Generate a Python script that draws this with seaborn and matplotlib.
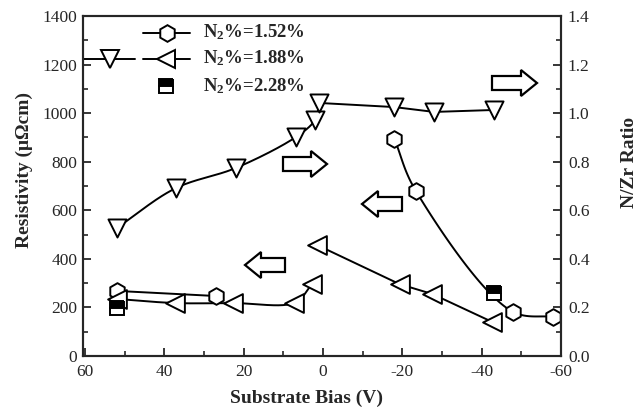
import numpy as np
import matplotlib
matplotlib.use("Agg")
import matplotlib.pyplot as plt
from matplotlib.patches import FancyArrow
from matplotlib.ticker import MultipleLocator, FormatStrFormatter
from matplotlib.transforms import IdentityTransform
import seaborn as sns

# ---------------- data ----------------
bias_152 = [52, 27, -18, -23.4, -48, -58]
res_152 = [268, 247, 894, 680, 181, 161]

bias_188_res = [52, 37.2, 22.6, 7.3, 2.8, 1.5, -19.3, -27.6, -42.7]
res_188 = [235, 218, 218, 218, 296, 457, 296, 255, 140]

bias_188_ratio = [52, 37, 22, 6.8, 2, 1, -18, -28, -43]
ratio_188 = [0.527, 0.692, 0.774, 0.902, 0.972, 1.042, 1.025, 1.005, 1.013]

bias_228 = [52, -43]
res_228 = [198, 259]

legend_labels = ["N$_2$%=1.52%", "N$_2$%=1.88%", "N$_2$%=2.28%"]
x_ticks = [60, 40, 20, 0, -20, -40, -60]

# ---------------- style ----------------
sns.set_style("ticks")
plt.rcParams["font.family"] = ["Liberation Serif", "DejaVu Serif"]
plt.rcParams["mathtext.fontset"] = "custom"
plt.rcParams["mathtext.rm"] = "Liberation Serif:bold"
plt.rcParams["mathtext.bf"] = "Liberation Serif:bold"
plt.rcParams["mathtext.default"] = "bf"


def smooth(xs, ys, sx, sy, n=40):
    P = np.column_stack([np.asarray(xs, float) / sx, np.asarray(ys, float) / sy])
    P = np.vstack([2 * P[0] - P[1], P, 2 * P[-1] - P[-2]])
    out = []
    for i in range(1, len(P) - 2):
        p0, p1, p2, p3 = P[i - 1:i + 3]
        t0 = 0.0
        t1 = t0 + np.linalg.norm(p1 - p0) ** 0.5 + 1e-9
        t2 = t1 + np.linalg.norm(p2 - p1) ** 0.5 + 1e-9
        t3 = t2 + np.linalg.norm(p3 - p2) ** 0.5 + 1e-9
        t = np.linspace(t1, t2, n)[:, None]
        A1 = (t1 - t) / (t1 - t0) * p0 + (t - t0) / (t1 - t0) * p1
        A2 = (t2 - t) / (t2 - t1) * p1 + (t - t1) / (t2 - t1) * p2
        A3 = (t3 - t) / (t3 - t2) * p2 + (t - t2) / (t3 - t2) * p3
        B1 = (t2 - t) / (t2 - t0) * A1 + (t - t0) / (t2 - t0) * A2
        B2 = (t3 - t) / (t3 - t1) * A2 + (t - t1) / (t3 - t1) * A3
        C = (t2 - t) / (t2 - t1) * B1 + (t - t1) / (t2 - t1) * B2
        out.append(C if i == 1 else C[1:])
    C = np.vstack(out)
    return C[:, 0] * sx, C[:, 1] * sy


W, H = 640, 409
fig = plt.figure(figsize=(W / 100, H / 100), dpi=100)
fig.subplots_adjust(left=83 / W, right=561 / W, bottom=1 - 356 / H, top=1 - 16 / H)
ax = fig.add_subplot(111)
ax2 = ax.twinx()

lw = 1.4
lk = dict(color="black", lw=lw, sort=False, legend=False)

# N2 1.52% lines
sns.lineplot(x=bias_152[:2], y=res_152[:2], ax=ax, **lk)
sx_, sy_ = smooth(bias_152[2:], res_152[2:], 120, 1400)
sns.lineplot(x=sx_, y=sy_, ax=ax, **lk)

# N2 1.88% resistivity lines
sx_, sy_ = smooth(bias_188_res[:5], res_188[:5], 120, 1400)
sns.lineplot(x=sx_, y=sy_, ax=ax, **lk)
sns.lineplot(x=bias_188_res[5:], y=res_188[5:], ax=ax, **lk)

# N2 1.88% ratio lines
sx_, sy_ = smooth(bias_188_ratio[:6], ratio_188[:6], 120, 1.4)
sns.lineplot(x=sx_, y=sy_, ax=ax2, **lk)
sns.lineplot(x=bias_188_ratio[5:], y=ratio_188[5:], ax=ax2, **lk)

mk = dict(color="white", edgecolor="black", linewidth=lw, zorder=5, legend=False)
sns.scatterplot(x=bias_152, y=res_152, marker="h", s=12 ** 2, ax=ax, **mk)
sns.scatterplot(x=bias_188_res, y=res_188, marker="<", s=13.5 ** 2, ax=ax, **mk)
sns.scatterplot(x=bias_188_ratio, y=ratio_188, marker="v", s=13 ** 2, ax=ax2, **mk)
ax.plot(bias_228, res_228, ls="none", marker="s", ms=10, mfc="black", mfcalt="white",
        fillstyle="top", mec="black", mew=lw, zorder=6)

# axes
ax.set_xlim(60.5, -60)
ax.set_ylim(0, 1400)
ax2.set_ylim(0, 1.4)
ax.set_xticks(x_ticks)
ax.set_xticklabels([str(v) for v in x_ticks])
ax.xaxis.set_minor_locator(MultipleLocator(10))
ax.yaxis.set_major_locator(MultipleLocator(200))
ax.yaxis.set_minor_locator(MultipleLocator(100))
ax2.yaxis.set_major_locator(MultipleLocator(0.2))
ax2.yaxis.set_minor_locator(MultipleLocator(0.1))
ax2.yaxis.set_major_formatter(FormatStrFormatter("%.1f"))

for a in (ax, ax2):
    for s in a.spines.values():
        s.set_linewidth(1.5)
        s.set_visible(True)
ax.tick_params(axis="both", which="major", direction="in", length=6, width=1.3,
               labelsize=12.5, pad=4)
ax.tick_params(axis="both", which="minor", direction="in", length=3.5, width=1.2)
ax.tick_params(axis="x", which="major", pad=6)
ax2.tick_params(axis="y", which="major", direction="in", length=6, width=1.3,
                labelsize=12.5, pad=5)
ax2.tick_params(axis="y", which="minor", direction="in", length=3.5, width=1.2)
ax.set_xlabel("")
ax.set_ylabel("")
ax2.set_ylabel("")

fig.text(307 / W, 1 - 398 / H, "Substrate Bias (V)", ha="center", va="center",
         fontsize=14, fontweight="bold")
fig.text(24 / W, 1 - 170 / H, "Resistivity (μΩcm)", ha="center", va="center",
         rotation=90, fontsize=14, fontweight="bold")
fig.text(630 / W, 1 - 162 / H, "N/Zr Ratio", ha="center", va="center",
         rotation=90, fontsize=14, fontweight="bold")

# legend (manual)
tf = fig.transFigure
def fx(p): return p / W
def fy(p): return 1 - p / H

ax.plot([fx(143), fx(190)], [fy(33), fy(33)], color="black", lw=lw, transform=tf, clip_on=False)
ax.plot([fx(167)], [fy(33)], marker="h", ms=12, mfc="white", mec="black", mew=lw,
        transform=tf, clip_on=False)
ax.plot([fx(84), fx(135)], [fy(59), fy(59)], color="black", lw=lw, transform=tf, clip_on=False)
ax.plot([fx(110)], [fy(59)], marker="v", ms=13, mfc="white", mec="black", mew=lw,
        transform=tf, clip_on=False)
ax.plot([fx(143), fx(190)], [fy(59), fy(59)], color="black", lw=lw, transform=tf, clip_on=False)
ax.plot([fx(166)], [fy(59)], marker="<", ms=13.5, mfc="white", mec="black", mew=lw,
        transform=tf, clip_on=False)
ax.plot([fx(166)], [fy(86)], marker="s", ms=10, mfc="black", mfcalt="white",
        fillstyle="top", mec="black", mew=lw, transform=tf, clip_on=False)
for lab, yb in zip(legend_labels, [37, 63, 91]):
    fig.text(fx(203), fy(yb), lab, ha="left", va="baseline", fontsize=13.5,
             fontweight="bold")

# hollow block arrows (pixel coordinates)
def block_arrow(x0, x1, yc, direction):
    y = H - yc
    if direction > 0:
        xs, dx = x0, x1 - x0
    else:
        xs, dx = x1, -(x1 - x0)
    arr = FancyArrow(xs, y, dx, 0, width=14, head_width=26, head_length=16,
                     length_includes_head=True, fill=True, facecolor="white",
                     edgecolor="black", lw=1.6, transform=IdentityTransform(), zorder=10)
    fig.patches.append(arr)

block_arrow(492, 537, 83, 1)
block_arrow(283, 327, 164, 1)
block_arrow(362, 402, 204, -1)
block_arrow(245, 285, 265, -1)

fig.savefig("out.png", dpi=100)
